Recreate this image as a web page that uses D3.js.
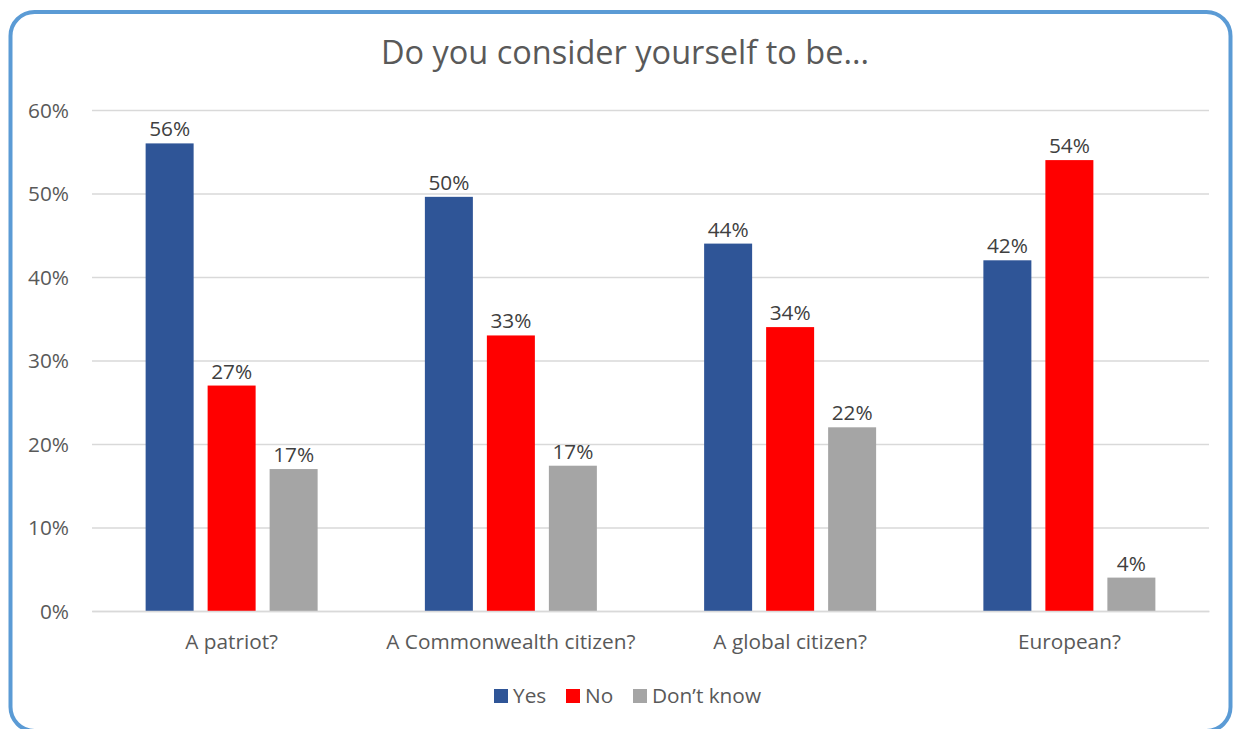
<!DOCTYPE html>
<html><head><meta charset="utf-8">
<script src="https://cdn.jsdelivr.net/npm/d3@7"></script>
<style>body{margin:0;background:#fff;font-family:"Open Sans",sans-serif;}</style>
</head><body>
<svg id="c" width="1236" height="729"></svg>
<script>
const categories = ["A patriot?", "A Commonwealth citizen?", "A global citizen?", "European?"];
const seriesNames = ["Yes", "No", "Don’t know"];
const yesValues = [0.56, 0.496, 0.44, 0.42];
const noValues = [0.27, 0.33, 0.34, 0.54];
const dkValues = [0.17, 0.174, 0.22, 0.04];
const yTicks = [0, 0.1, 0.2, 0.3, 0.4, 0.5, 0.6];
const colors = ["#2f5597", "#ff0000", "#a5a5a5"];
const title = "Do you consider yourself to be...";

const series = [yesValues, noValues, dkValues];
const svg = d3.select("#c");
const m = {left: 92, right: 1209, top: 110, bottom: 611};
const fs = 20.8;

svg.append("rect").attr("x", 10.5).attr("y", 12).attr("width", 1220).attr("height", 719)
  .attr("rx", 24).attr("ry", 24).attr("fill", "#fff").attr("stroke", "#5b9bd5").attr("stroke-width", 4);

svg.append("text").attr("x", 625).attr("y", 64).attr("text-anchor", "middle")
  .attr("font-size", 32.5).attr("fill", "#595959").text(title);

const y = d3.scaleLinear().domain([0, 0.6]).range([m.bottom, m.top]);
const x0 = d3.scaleBand().domain(categories).range([m.left, m.right]);

// gridlines + y labels
const yAxis = d3.axisLeft(y).tickValues(yTicks).tickFormat(d3.format(".0%")).tickSize(-(m.right - m.left)).tickPadding(23);
const gy = svg.append("g").attr("transform", `translate(${m.left},0)`).call(yAxis);
gy.select(".domain").remove();
gy.selectAll(".tick line").attr("stroke", "#d9d9d9").attr("stroke-width", 1.5);
gy.selectAll(".tick text").attr("fill", "#595959").attr("font-size", fs).attr("font-family", "Open Sans").attr("dy", "0.35em");

// bars
const barW = 48, gap = 14;
const groupW = 3 * barW + 2 * gap;
categories.forEach((c, i) => {
  const cx = x0(c) + x0.bandwidth() / 2;
  const sx = d3.scaleBand().domain(d3.range(3)).range([cx - groupW / 2 - gap/2, cx + groupW / 2 + gap/2]).paddingInner(gap/(barW+gap)).paddingOuter(gap/2/(barW+gap));
  series.forEach((vals, s) => {
    const v = vals[i];
    svg.append("rect").attr("x", sx(s)).attr("y", y(v)).attr("width", sx.bandwidth()).attr("height", y(0) - y(v)).attr("fill", colors[s]);
    svg.append("text").attr("x", sx(s) + sx.bandwidth() / 2).attr("y", y(v) - 7).attr("text-anchor", "middle")
      .attr("font-size", fs).attr("fill", "#404040").text(d3.format(".0%")(v));
  });
});

// x axis
const xAxis = d3.axisBottom(x0).tickSize(0).tickPadding(23);
const gx = svg.append("g").attr("transform", `translate(0,${m.bottom})`).call(xAxis);
gx.select(".domain").attr("stroke", "#d9d9d9").attr("stroke-width", 1.5);
gx.selectAll(".tick text").attr("fill", "#595959").attr("font-size", fs).attr("font-family", "Open Sans");

// legend
const legendX = [494, 566, 633];
seriesNames.forEach((n, s) => {
  const g = svg.append("g").attr("transform", `translate(${legendX[s]},689)`);
  g.append("rect").attr("width", 14).attr("height", 14).attr("fill", colors[s]);
  g.append("text").attr("x", 19).attr("y", 7).attr("dy", "0.35em").attr("font-size", fs).attr("fill", "#595959").text(n);
});
</script>
</body></html>
